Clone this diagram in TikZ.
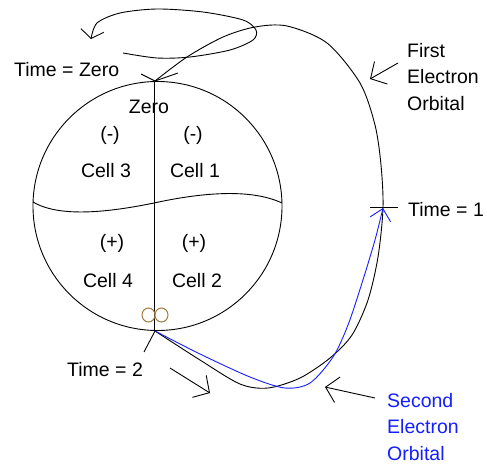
\documentclass[tikz,border=0pt]{standalone}
\usepackage{fontspec}
\setmainfont{Liberation Sans}
\usetikzlibrary{arrows.meta}
\definecolor{orbblue}{RGB}{20,30,255}
\definecolor{infcol}{RGB}{160,120,60}

\begin{document}
\begin{tikzpicture}[x=1pt,y=-1pt,
every node/.style={inner sep=0pt,font=\fontsize{19.5}{26.5}\selectfont},
orbit/.style={line width=0.9pt},
pointer/.style={line width=0.9pt,-{Straight Barb[length=12pt,width=26pt]}}]

\useasboundingbox (0,0) rectangle (487,468);

\coordinate (C) at (157.5,206);
\coordinate (top) at (155,81);
\coordinate (bot) at (155,331);
\coordinate (t1) at (383,208);
\coordinate (axtop) at (154,82);
\coordinate (axbot) at (154,331);
\coordinate (eqL) at (33,202);
\coordinate (eqM) at (154,203);
\coordinate (eqR) at (282,203);

% the atom
\draw[orbit] (C) circle[radius=124.5pt];
\draw[orbit] (axtop) -- (axbot);
\draw[orbit] (eqL) .. controls (60,218) and (110,212) .. (eqM)
  .. controls (200,193) and (250,188) .. (eqR);
\draw[infcol,line width=1pt] (148.5,315) ellipse[x radius=6.5,y radius=7]
  (161.5,315) ellipse[x radius=6.5,y radius=7];

\node (zero) at (149,107) {Zero};
\node (m3) at (110,135) {(-)};
\node (m1) at (193,135) {(-)};
\node (c3) at (106,171) {Cell 3};
\node (c1) at (195,171) {Cell 1};
\node (p4) at (112,243) {(+)};
\node (p2) at (194,243) {(+)};
\node (c4) at (108,281) {Cell 4};
\node (c2) at (197,281) {Cell 2};

% first orbital
\draw[orbit,-{Straight Barb[length=8pt,width=23pt]}] plot[smooth] coordinates
  {(123,53) (157,58) (190,57) (230,50) (253,40) (256,30) (243,20) (203,12)
   (157,9) (120,13) (97,23) (91,39)};
\draw[orbit] plot[smooth] coordinates
  {(top) (187,57) (223,37) (255,27) (287,26) (327,43) (360,83) (375,125)
   (381,165) (t1) (378,257) (368,300) (352,335) (330,358) (300,378)
   (268,388) (240,384) (200,360) (bot)};

% second orbital
\draw[orbit,orbblue,line width=0.9pt,-{Straight Barb[length=11pt,width=21pt]}]
  plot[smooth] coordinates
  {(bot) (200,354) (250,377) (285,388) (310,383) (333,357) (348,325)
   (362,283) (375,240) (t1)};

% time marks
\coordinate (zl) at (141,74);
\coordinate (zr) at (178,73);
\coordinate (tl) at (370,207);
\coordinate (tr) at (398,207);
\coordinate (sl) at (144,352);
\draw[orbit] (zl) -- (top) -- (zr);
\draw[orbit] (tl) -- (tr);
\draw[orbit] (bot) -- (sl);

\node[anchor=west] (tz) at (14,70) {Time = Zero};
\node[anchor=west] (tone) at (408,210) {Time = 1};
\node[anchor=west] (ttwo) at (67,370) {Time = 2};

% labels
\coordinate (fa) at (398,63);
\coordinate (fb) at (370,79);
\coordinate (sa) at (375,398);
\coordinate (sb) at (325,387);
\coordinate (da) at (170,368);
\coordinate (db) at (210,393);
\draw[pointer] (fa) -- (fb);
\draw[pointer] (sa) -- (sb);
\draw[pointer] (da) -- (db);

\node[anchor=north west,align=left] (first) at (407,43)
  {First\\Electron\\Orbital};
\node[anchor=north west,align=left,text=orbblue] (second) at (387,393)
  {Second\\Electron\\Orbital};
\end{tikzpicture}
\end{document}
